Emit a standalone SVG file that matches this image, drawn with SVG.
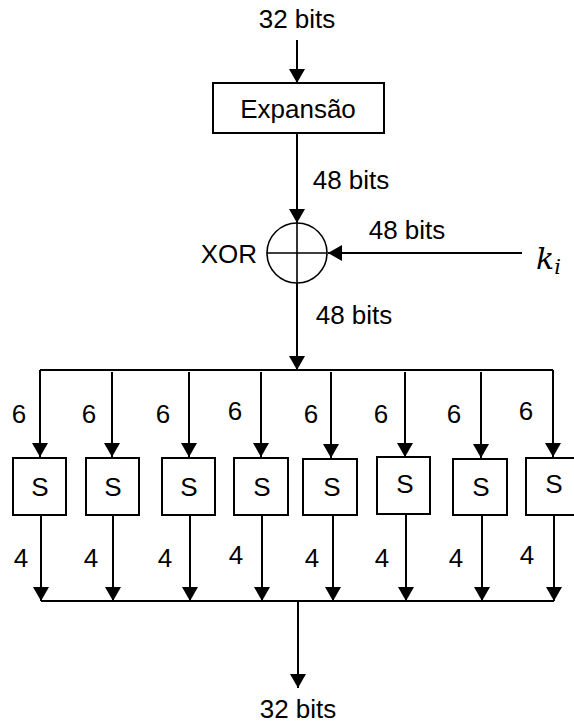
<svg xmlns="http://www.w3.org/2000/svg" width="574" height="725" viewBox="0 0 574 725">
  <style>
    .ln { stroke: #000; stroke-width: 2; fill: none; }
    .arr { marker-end: url(#head); }
    .box { fill: #fff; stroke: #000; stroke-width: 2; }
    .txt { font-family: "Liberation Sans", Arial, sans-serif; font-size: 26px; fill: #000; }
    .mid { text-anchor: middle; }
  </style>
  <defs>
    <marker id="head" markerUnits="userSpaceOnUse" markerWidth="16" markerHeight="16" refX="14" refY="8" orient="auto">
      <path d="M0,0 L14,8 L0,16 Z" fill="#000"/>
    </marker>
  </defs>
  <rect width="574" height="725" fill="#fff"/>

  <!-- connectors -->
  <g id="connectors">
    <path class="ln arr" d="M297,40 V83"/>
    <path class="ln arr" d="M297,133 V223"/>
    <path class="ln arr" d="M522,253 H328"/>
    <path class="ln arr" d="M297,283 V370"/>
    <path class="ln" d="M40,370 H553"/>
    <path class="ln arr" d="M40,370 V457"/>
    <path class="ln arr" d="M112,372 V457"/>
    <path class="ln arr" d="M189,372 V457"/>
    <path class="ln arr" d="M261,372 V457"/>
    <path class="ln arr" d="M331,372 V458"/>
    <path class="ln arr" d="M405,372 V457"/>
    <path class="ln arr" d="M481,372 V458"/>
    <path class="ln arr" d="M553,370 V457"/>
    <path class="ln arr" d="M41,515 V601"/>
    <path class="ln arr" d="M113,515 V601"/>
    <path class="ln arr" d="M190,515 V601"/>
    <path class="ln arr" d="M262,515 V601"/>
    <path class="ln arr" d="M333,515 V601"/>
    <path class="ln arr" d="M406,514 V601"/>
    <path class="ln arr" d="M482,515 V601"/>
    <path class="ln arr" d="M554,515 V601"/>
    <path class="ln" d="M41,601 H554"/>
    <path class="ln arr" d="M298,601 V688"/>
  </g>

  <!-- input / output labels -->
  <text class="txt mid" x="297" y="28">32 bits</text>
  <text class="txt mid" x="298" y="718">32 bits</text>
  <text class="txt mid" x="351" y="189">48 bits</text>
  <text class="txt mid" x="407" y="239">48 bits</text>
  <text class="txt mid" x="354" y="324">48 bits</text>

  <!-- expansion -->
  <g id="expansao">
    <rect class="box" x="213" y="83" width="171" height="50"/>
    <text class="txt mid" x="298" y="118">Expansão</text>
  </g>

  <!-- XOR -->
  <g id="xor">
    <circle cx="297" cy="253" r="30" fill="#fff" stroke="#000" stroke-width="1.6"/>
    <path d="M297,223 V283 M267,253 H327" stroke="#000" stroke-width="1.6"/>
    <text class="txt" x="257" y="263" text-anchor="end">XOR</text>
  </g>

  <!-- round key -->
  <g id="key">
    <text x="536" y="269" font-family="'DejaVu Serif', 'Liberation Serif', serif" font-style="italic" font-size="30">k<tspan font-size="21" dy="5">i</tspan></text>
  </g>

  <!-- S-boxes -->
  <g id="s1"><rect class="box" x="13" y="458" width="53" height="57"/><text class="txt mid" x="40" y="496">S</text></g>
  <g id="s2"><rect class="box" x="86" y="458" width="53" height="57"/><text class="txt mid" x="113" y="496">S</text></g>
  <g id="s3"><rect class="box" x="162" y="458" width="53" height="57"/><text class="txt mid" x="189" y="496">S</text></g>
  <g id="s4"><rect class="box" x="234" y="458" width="54" height="57"/><text class="txt mid" x="262" y="496">S</text></g>
  <g id="s5"><rect class="box" x="303" y="459" width="54" height="56"/><text class="txt mid" x="332" y="496">S</text></g>
  <g id="s6"><rect class="box" x="377" y="457" width="53" height="57"/><text class="txt mid" x="405" y="493">S</text></g>
  <g id="s7"><rect class="box" x="453" y="459" width="54" height="56"/><text class="txt mid" x="481" y="496">S</text></g>
  <g id="s8"><rect class="box" x="526" y="458" width="54" height="57"/><text class="txt mid" x="554" y="493">S</text></g>

  <!-- bit widths -->
  <g class="txt mid">
    <text x="19" y="423">6</text>
    <text x="89" y="423">6</text>
    <text x="163" y="423">6</text>
    <text x="235" y="420">6</text>
    <text x="311" y="423">6</text>
    <text x="381" y="423">6</text>
    <text x="454" y="423">6</text>
    <text x="526" y="420">6</text>
    <text x="21" y="567">4</text>
    <text x="91" y="567">4</text>
    <text x="165" y="567">4</text>
    <text x="236" y="564">4</text>
    <text x="312" y="567">4</text>
    <text x="382" y="567">4</text>
    <text x="456" y="567">4</text>
    <text x="527" y="564">4</text>
  </g>
</svg>
